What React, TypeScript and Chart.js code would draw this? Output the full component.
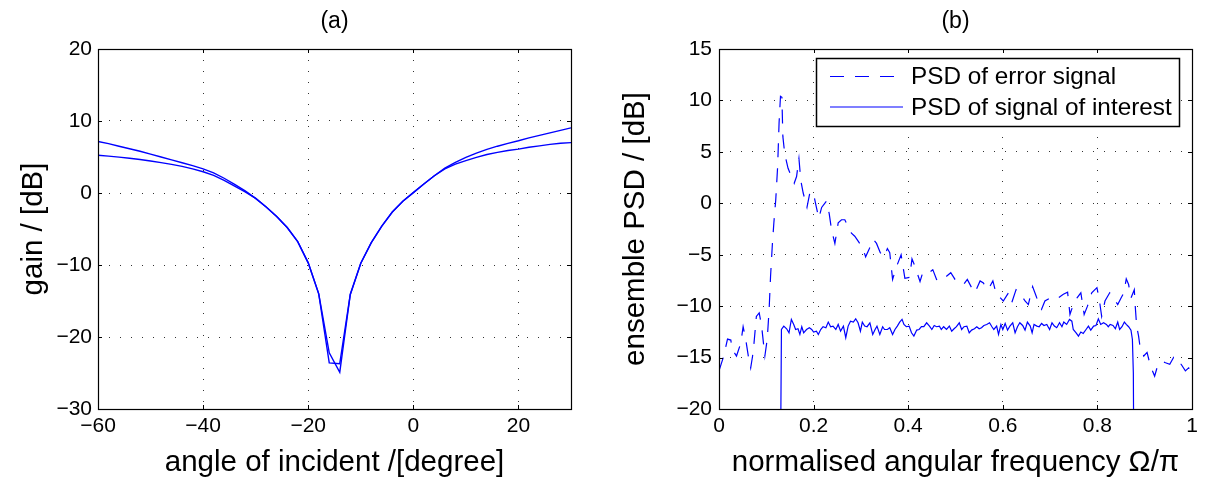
import React, { useEffect, useRef } from 'react';
import { Chart, registerables } from 'chart.js';

Chart.register(...registerables);

// ---------- panel (a): gain vs angle of incidence ----------
const anglesDeg = [
  -60, -58, -56, -54, -52, -50, -48, -46, -44, -42,
  -40, -38, -36, -34, -32, -30, -28, -26, -24, -22,
  -20, -18, -16, -14, -12, -10, -8, -6, -4, -2,
  0, 2, 4, 6, 8, 10, 12, 14, 16, 18,
  20, 22, 24, 26, 28, 30,
];
const gainA = [
  7.15, 6.85, 6.5, 6.15, 5.8, 5.4, 5.0, 4.6, 4.2, 3.8,
  3.35, 2.8, 2.05, 1.2, 0.3, -0.75, -1.95, -3.25, -4.8, -6.75,
  -9.7, -14.0, -22.2, -24.9, -14.1, -9.75, -6.9, -4.6, -2.65, -1.15,
  0.05, 1.25, 2.4, 3.45, 4.25, 4.95, 5.55, 6.05, 6.5, 6.9,
  7.25, 7.65, 8.0, 8.35, 8.7, 9.05,
];
const gainB = [
  5.25, 5.12, 4.98, 4.82, 4.65, 4.45, 4.22, 3.97, 3.7, 3.35,
  2.95, 2.45, 1.75, 0.95, 0.15, -0.75, -1.95, -3.25, -4.8, -6.75,
  -9.7, -14.0, -23.6, -23.7, -14.1, -9.75, -6.9, -4.6, -2.65, -1.15,
  0.05, 1.25, 2.4, 3.35, 4.0, 4.5, 4.95, 5.35, 5.65, 5.9,
  6.1, 6.35, 6.55, 6.75, 6.9, 7.0,
];
const angleTicks = [-60, -40, -20, 0, 20];
const gainTicks = [-30, -20, -10, 0, 10, 20];

// ---------- panel (b): ensemble PSD ----------
const errFreq = [
  0.000, 0.010, 0.018, 0.025, 0.028, 0.037, 0.046, 0.051, 0.056, 0.062,
  0.067, 0.071, 0.074, 0.079, 0.085, 0.090, 0.094, 0.097, 0.102, 0.106,
  0.109, 0.113, 0.116, 0.120, 0.124, 0.127, 0.130, 0.133, 0.135, 0.139,
  0.146, 0.159, 0.164, 0.169, 0.173, 0.178, 0.186, 0.192, 0.199, 0.205,
  0.211, 0.217, 0.227, 0.233, 0.238, 0.245, 0.252, 0.259, 0.266, 0.273,
  0.280, 0.287, 0.296, 0.304, 0.310, 0.318, 0.326, 0.333, 0.341, 0.349,
  0.356, 0.361, 0.367, 0.375, 0.385, 0.393, 0.403, 0.408, 0.414, 0.425,
  0.431, 0.443, 0.452, 0.460, 0.470, 0.481, 0.490, 0.499, 0.508, 0.517,
  0.525, 0.534, 0.541, 0.552, 0.559, 0.566, 0.573, 0.579, 0.587, 0.595,
  0.601, 0.612, 0.619, 0.628, 0.636, 0.647, 0.654, 0.663, 0.672, 0.682,
  0.689, 0.700, 0.707, 0.717, 0.728, 0.737, 0.742, 0.749, 0.757, 0.765,
  0.772, 0.779, 0.788, 0.799, 0.804, 0.809, 0.816, 0.826, 0.834, 0.843,
  0.850, 0.856, 0.861, 0.866, 0.871, 0.878, 0.880, 0.883, 0.887, 0.890,
  0.898, 0.905, 0.912, 0.921, 0.926, 0.936, 0.944, 0.953, 0.961, 0.968,
  0.977, 0.986, 0.993, 1.000,
];
const errPsd = [
  -16.3, -14.85, -13.2, -13.3, -14.2, -14.85, -13.6, -12.0, -13.1, -14.85,
  -16.0, -14.85, -13.6, -11.0, -10.65, -11.9, -13.6, -14.85, -13.2, -10.3,
  -7.1, -3.85, -1.9, 0.35, 3.6, 7.8, 10.4, 10.3, 6.5, 4.8,
  3.4, 1.95, 2.6, 4.35, 2.2, 1.0, -0.4, 1.0, 1.1, -0.2,
  -1.45, -0.4, 0.2, -1.0, -2.6, -3.9, -1.9, -1.6, -1.6, -2.3,
  -2.9, -3.2, -3.8, -4.4, -5.2, -4.4, -3.5, -3.9, -4.8, -5.2,
  -4.4, -4.8, -7.4, -6.2, -5.0, -7.3, -7.2, -5.4, -6.1, -7.6,
  -6.7, -6.8, -6.45, -7.4, -7.55, -7.1, -6.75, -7.4, -7.55, -7.9,
  -7.4, -8.2, -8.7, -7.55, -7.75, -8.4, -8.05, -7.55, -9.0, -9.2,
  -9.5, -8.7, -9.65, -8.4, -8.7, -9.5, -9.85, -8.1, -9.2, -10.3,
  -9.5, -9.2, -9.35, -9.2, -8.85, -8.65, -10.8, -9.85, -9.2, -8.7,
  -10.8, -10.0, -8.7, -8.2, -9.35, -11.0, -9.5, -8.7, -9.2, -9.85,
  -9.2, -8.7, -7.35, -7.9, -9.2, -8.4, -10.0, -11.95, -12.9, -13.9,
  -14.85, -14.5, -15.8, -16.8, -16.0, -15.35, -15.5, -15.65, -15.0, -15.65,
  -15.65, -16.3, -16.0, -16.4,
];
const soiFreq = [
  0.127, 0.132, 0.137, 0.143, 0.148, 0.153, 0.158, 0.162, 0.167, 0.171,
  0.175, 0.179, 0.185, 0.191, 0.196, 0.200, 0.206, 0.210, 0.215, 0.220,
  0.226, 0.231, 0.236, 0.241, 0.247, 0.252, 0.257, 0.263, 0.268, 0.273,
  0.278, 0.284, 0.289, 0.294, 0.299, 0.303, 0.308, 0.313, 0.319, 0.325,
  0.330, 0.334, 0.340, 0.346, 0.350, 0.356, 0.361, 0.367, 0.372, 0.377,
  0.382, 0.387, 0.391, 0.396, 0.402, 0.407, 0.412, 0.418, 0.423, 0.428,
  0.433, 0.439, 0.445, 0.450, 0.455, 0.460, 0.466, 0.470, 0.475, 0.481,
  0.487, 0.492, 0.497, 0.502, 0.508, 0.513, 0.518, 0.524, 0.529, 0.534,
  0.540, 0.545, 0.550, 0.555, 0.560, 0.566, 0.572, 0.577, 0.581, 0.587,
  0.591, 0.596, 0.600, 0.605, 0.610, 0.615, 0.621, 0.626, 0.631, 0.636,
  0.642, 0.647, 0.652, 0.658, 0.662, 0.666, 0.672, 0.677, 0.682, 0.687,
  0.693, 0.699, 0.704, 0.709, 0.714, 0.720, 0.725, 0.729, 0.735, 0.741,
  0.746, 0.749, 0.755, 0.760, 0.765, 0.770, 0.776, 0.781, 0.786, 0.792,
  0.797, 0.802, 0.807, 0.813, 0.819, 0.823, 0.827, 0.833, 0.838, 0.843,
  0.847, 0.852, 0.857, 0.861, 0.866, 0.871, 0.874, 0.876, 0.879,
];
const soiPsd = [
  -45, -12.27, -11.94, -12.2, -12.59, -11.29, -11.78, -12.27, -12.2, -12.75,
  -12.0, -12.59, -12.27, -12.1, -12.27, -12.52, -12.43, -12.75, -12.27, -12.0,
  -12.1, -11.55, -12.0, -11.94, -12.27, -11.78, -12.43, -11.94, -13.07, -11.94,
  -11.46, -11.55, -11.23, -11.62, -12.43, -11.55, -11.94, -12.0, -11.62, -12.75,
  -12.27, -11.94, -12.75, -12.0, -12.27, -12.27, -12.1, -12.75, -12.27, -11.94,
  -11.55, -11.29, -11.78, -12.0, -11.94, -12.59, -12.91, -12.33, -12.27, -12.0,
  -12.0, -11.62, -11.94, -12.27, -11.88, -12.0, -11.94, -12.27, -12.0, -12.27,
  -11.94, -12.43, -12.2, -12.0, -11.62, -12.27, -12.0, -11.94, -12.59, -12.33,
  -12.2, -12.0, -12.2, -12.1, -11.88, -11.78, -11.62, -12.0, -12.27, -11.94,
  -12.75, -11.78, -12.27, -11.68, -12.33, -11.94, -11.62, -12.59, -12.0, -11.62,
  -11.88, -12.33, -11.55, -11.94, -12.59, -11.78, -11.94, -12.0, -11.68, -11.88,
  -11.78, -12.27, -11.62, -11.94, -12.1, -11.62, -12.0, -11.55, -11.78, -11.29,
  -11.46, -12.27, -12.59, -12.91, -12.52, -12.65, -12.27, -11.94, -12.33, -11.94,
  -11.88, -11.23, -11.78, -11.62, -11.78, -12.0, -11.78, -11.88, -12.2, -11.55,
  -12.27, -12.0, -11.55, -11.78, -12.0, -12.33, -13.24, -16.5, -45,
];
const freqTicks = [0, 0.2, 0.4, 0.6, 0.8, 1];
const psdTicks = [-20, -15, -10, -5, 0, 5, 10, 15];

const legendLabels = ['PSD of error signal', 'PSD of signal of interest'];

// ---------- styling ----------
const FONT = '"Liberation Sans", Arial, Helvetica, sans-serif';
const BLUE = '#0000ff';
const GRID = 'rgba(0,0,0,0.8)';
const TICK_SIZE = 21;
const LABEL_SIZE = 29.5;
const TITLE_SIZE = 23;
const LEGEND_SIZE = 24.3;
const TICK_LEN = 4;

const fmt = (v: number) => {
  const s = String(Math.round(v * 1000) / 1000);
  return s.replace('-', '\u2212');
};

const zip = (xs: number[], ys: number[]) => xs.map((x, i) => ({ x, y: ys[i] }));

type PanelCfg = {
  title: string;
  xTitle: string;
  yTitle: string;
  yTitleX: number;
  legend?: boolean;
};

function framePlugin(cfg: PanelCfg) {
  return {
    id: 'frame',
    afterDatasetsDraw(chart: any) {
      const { ctx, chartArea: a } = chart;
      const xs = chart.scales.x;
      const ys = chart.scales.y;
      ctx.save();
      ctx.setLineDash([]);
      ctx.strokeStyle = '#000';
      ctx.lineWidth = 1;
      // inward tick marks on all four sides
      ctx.beginPath();
      xs.ticks.forEach((t: any) => {
        const px = Math.round(xs.getPixelForValue(t.value)) + 0.5;
        ctx.moveTo(px, a.bottom);
        ctx.lineTo(px, a.bottom - TICK_LEN);
        ctx.moveTo(px, a.top);
        ctx.lineTo(px, a.top + TICK_LEN);
      });
      ys.ticks.forEach((t: any) => {
        const py = Math.round(ys.getPixelForValue(t.value)) + 0.5;
        ctx.moveTo(a.left, py);
        ctx.lineTo(a.left + TICK_LEN, py);
        ctx.moveTo(a.right, py);
        ctx.lineTo(a.right - TICK_LEN, py);
      });
      ctx.stroke();
      // box
      ctx.lineWidth = 1.2;
      ctx.strokeRect(
        Math.round(a.left) + 0.5,
        Math.round(a.top) + 0.5,
        Math.round(a.right - a.left),
        Math.round(a.bottom - a.top)
      );
      // titles
      ctx.fillStyle = '#000';
      ctx.textAlign = 'center';
      ctx.textBaseline = 'middle';
      ctx.font = `${TITLE_SIZE}px ${FONT}`;
      ctx.fillText(cfg.title, (a.left + a.right) / 2, 22);
      ctx.font = `${LABEL_SIZE}px ${FONT}`;
      ctx.fillText(cfg.xTitle, (a.left + a.right) / 2, 463);
      ctx.save();
      ctx.translate(cfg.yTitleX, (a.top + a.bottom) / 2);
      ctx.rotate(-Math.PI / 2);
      ctx.fillText(cfg.yTitle, 0, 0);
      ctx.restore();
      // legend
      if (cfg.legend) {
        const w = 363;
        const h = 68;
        const lx = Math.round(a.right - 13 - w);
        const ly = Math.round(a.top + 9);
        ctx.fillStyle = '#fff';
        ctx.fillRect(lx, ly, w, h);
        ctx.strokeStyle = '#000';
        ctx.lineWidth = 1.5;
        ctx.strokeRect(lx + 0.5, ly + 0.5, w, h);
        const rows = [ly + 18.5, ly + 49];
        chart.data.datasets.forEach((ds: any, i: number) => {
          ctx.strokeStyle = ds.borderColor;
          ctx.lineWidth = ds.borderWidth;
          ctx.setLineDash(ds.borderDash || []);
          ctx.beginPath();
          ctx.moveTo(lx + 14, rows[i]);
          ctx.lineTo(lx + 87, rows[i]);
          ctx.stroke();
          ctx.setLineDash([]);
          ctx.fillStyle = '#000';
          ctx.textAlign = 'left';
          ctx.font = `${LEGEND_SIZE}px ${FONT}`;
          ctx.fillText(ds.label, lx + 95, rows[i] + 1);
        });
      }
      ctx.restore();
    },
  };
}

function axisOpts(
  min: number,
  max: number,
  ticks: number[],
  fit: { width?: number; height?: number },
  pad: number
) {
  return {
    type: 'linear' as const,
    min,
    max,
    afterBuildTicks: (s: any) => {
      s.ticks = ticks.map((v) => ({ value: v }));
    },
    afterFit: (s: any) => {
      if (fit.width !== undefined) s.width = fit.width;
      if (fit.height !== undefined) s.height = fit.height;
    },
    grid: { color: GRID, lineWidth: 1, drawTicks: false },
    border: { display: false, dash: [1, 10] },
    ticks: {
      padding: pad,
      color: '#000',
      font: { family: FONT, size: TICK_SIZE },
      maxRotation: 0,
      autoSkip: false,
      callback: (v: any) => fmt(Number(v)),
    },
  };
}

export default function App() {
  const leftRef = useRef<HTMLCanvasElement | null>(null);
  const rightRef = useRef<HTMLCanvasElement | null>(null);

  useEffect(() => {
    const left = new Chart(leftRef.current as HTMLCanvasElement, {
      type: 'line',
      data: {
        datasets: [
          {
            label: 'gain A',
            data: zip(anglesDeg, gainA),
            borderColor: BLUE,
            borderWidth: 1.4,
            pointRadius: 0,
            tension: 0,
            fill: false,
          },
          {
            label: 'gain B',
            data: zip(anglesDeg, gainB),
            borderColor: BLUE,
            borderWidth: 1.4,
            pointRadius: 0,
            tension: 0,
            fill: false,
          },
        ],
      },
      options: {
        animation: false,
        responsive: false,
        devicePixelRatio: 1,
        events: [],
        layout: { padding: { left: 0, right: 32, top: 49, bottom: 0 } },
        plugins: { legend: { display: false }, tooltip: { enabled: false }, title: { display: false } },
        scales: {
          x: axisOpts(-60, 30, angleTicks, { height: 73 }, 5),
          y: axisOpts(-30, 20, gainTicks, { width: 98 }, 6),
        },
      },
      plugins: [
        framePlugin({
          title: '(a)',
          xTitle: 'angle of incident /[degree]',
          yTitle: 'gain / [dB]',
          yTitleX: 34,
        }),
      ],
    } as any);

    const right = new Chart(rightRef.current as HTMLCanvasElement, {
      type: 'line',
      data: {
        datasets: [
          {
            label: legendLabels[0],
            data: zip(errFreq, errPsd),
            borderColor: BLUE,
            borderWidth: 1.2,
            borderDash: [14, 11],
            pointRadius: 0,
            tension: 0,
            fill: false,
          },
          {
            label: legendLabels[1],
            data: zip(soiFreq, soiPsd),
            borderColor: BLUE,
            borderWidth: 1.2,
            pointRadius: 0,
            tension: 0,
            fill: false,
          },
        ],
      },
      options: {
        animation: false,
        responsive: false,
        devicePixelRatio: 1,
        events: [],
        layout: { padding: { left: 0, right: 14, top: 49, bottom: 0 } },
        plugins: { legend: { display: false }, tooltip: { enabled: false }, title: { display: false } },
        scales: {
          x: axisOpts(0, 1, freqTicks, { height: 73 }, 5),
          y: axisOpts(-20, 15, psdTicks, { width: 116 }, 7),
        },
      },
      plugins: [
        framePlugin({
          title: '(b)',
          xTitle: 'normalised angular frequency \u03A9/\u03C0',
          yTitle: 'ensemble PSD / [dB]',
          yTitleX: 33,
          legend: true,
        }),
      ],
    } as any);

    return () => {
      left.destroy();
      right.destroy();
    };
  }, []);

  return (
    <div
      style={{
        position: 'fixed',
        left: 0,
        top: 0,
        width: 1206,
        height: 482,
        background: '#fff',
        overflow: 'hidden',
      }}
    >
      <canvas
        ref={leftRef}
        width={603}
        height={482}
        style={{ position: 'absolute', left: 0, top: 0, width: 603, height: 482 }}
      />
      <canvas
        ref={rightRef}
        width={603}
        height={482}
        style={{ position: 'absolute', left: 603, top: 0, width: 603, height: 482 }}
      />
    </div>
  );
}
